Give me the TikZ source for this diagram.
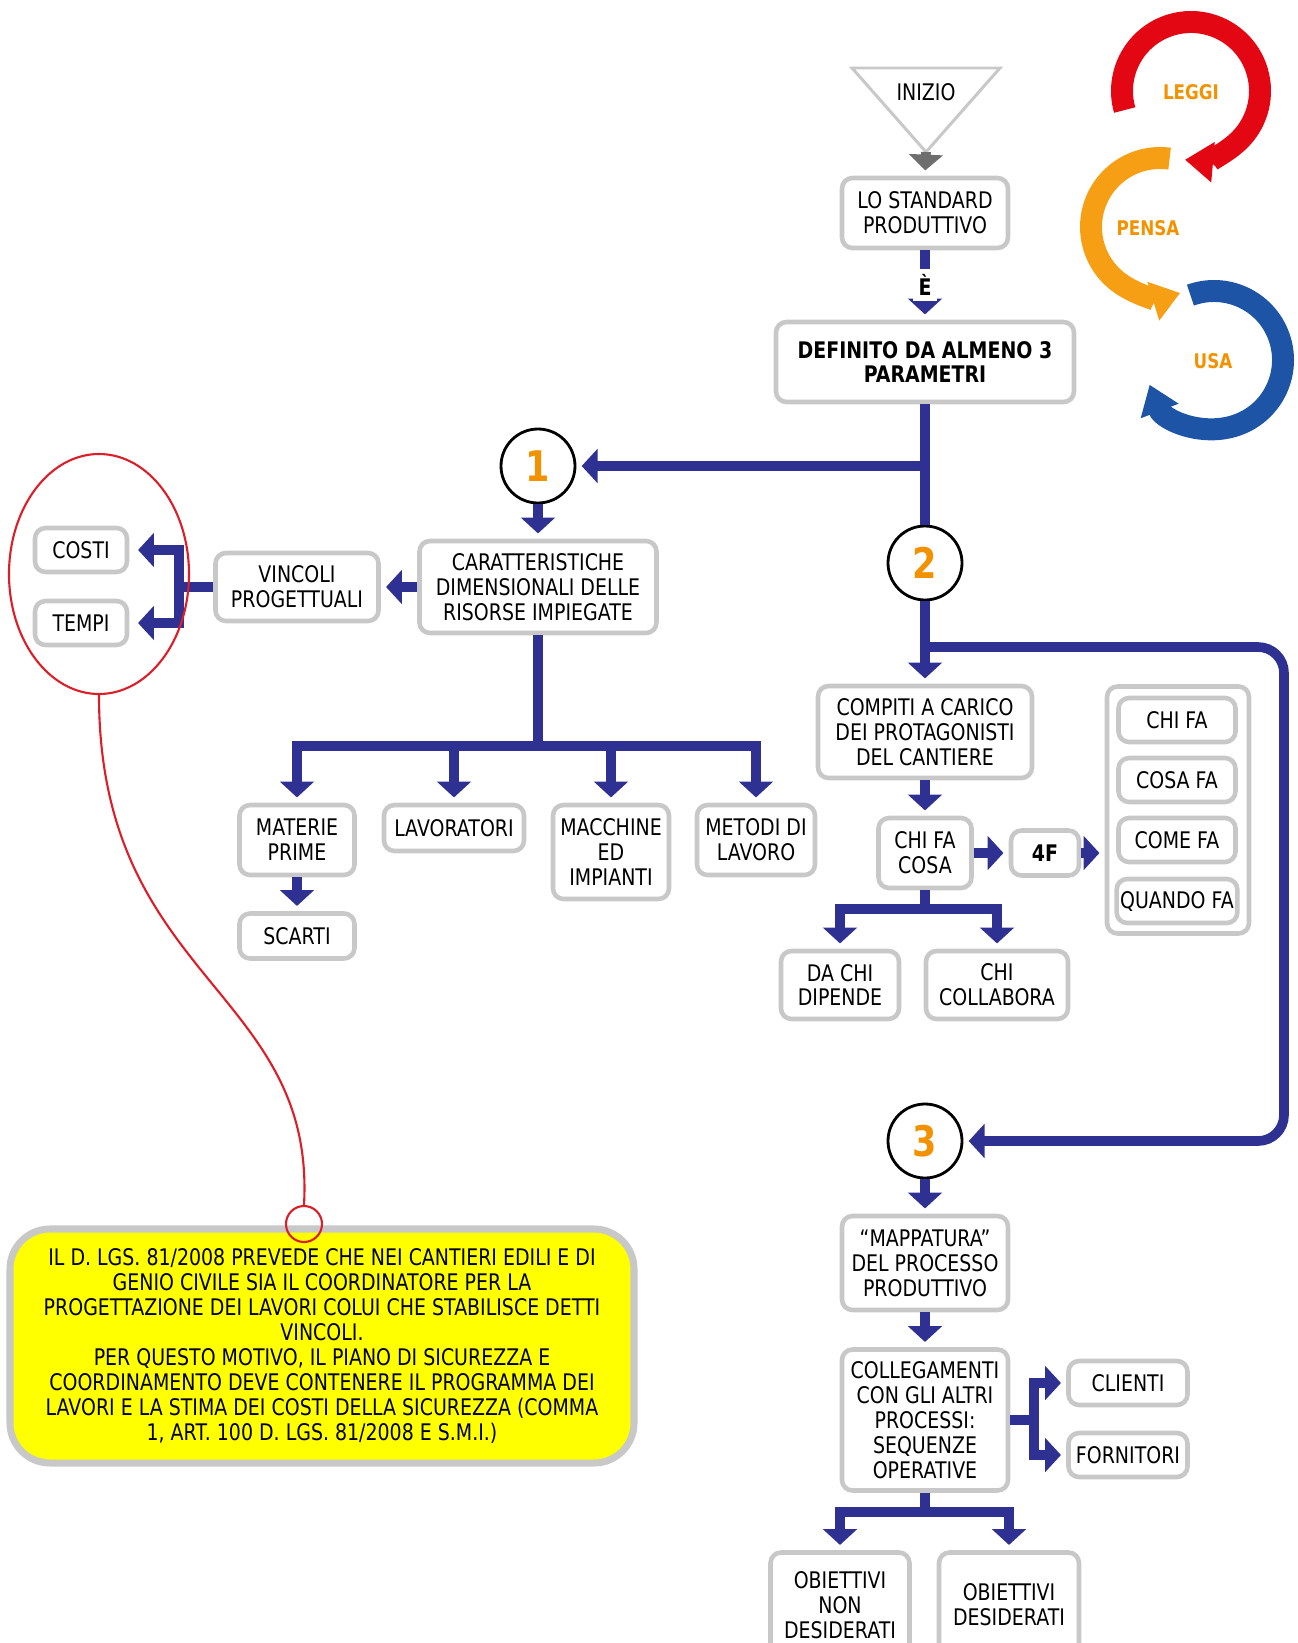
\documentclass[tikz,border=0pt]{standalone}
\usepackage{fontspec}
\setmainfont{DejaVu Sans}[FakeStretch=0.83]
\usetikzlibrary{arrows.meta, positioning, shapes.geometric}

\definecolor{flowblue}{RGB}{46,49,146}
\definecolor{boxgray}{RGB}{200,200,200}
\definecolor{arrowgray}{RGB}{110,110,110}
\definecolor{numorange}{RGB}{243,146,0}
\definecolor{cycred}{RGB}{227,6,19}
\definecolor{cycorange}{RGB}{246,159,20}
\definecolor{cycblue}{RGB}{30,84,166}
\definecolor{noteyellow}{RGB}{255,255,0}
\definecolor{pinred}{RGB}{220,30,40}

\begin{document}
\begin{tikzpicture}[
  x=0.2mm, y=-0.2mm,
  every node/.style={font=\fontsize{13}{14.2}\selectfont},
  box/.style={draw=boxgray, line width=2.6pt, rounded corners=6pt, fill=white, align=center, inner sep=2pt},
  num/.style={circle, draw=black, line width=1.6pt, fill=white, minimum size=14.8mm, font=\fontsize{24}{24}\selectfont\bfseries, text=numorange},
  flow/.style={draw=flowblue, line width=5.5pt, -{Triangle[width=19pt,length=9pt]}, shorten >=3pt},
  bar/.style={draw=flowblue, line width=5.5pt},
  cyc/.style={line width=12.5pt, -{Triangle[width=22pt,length=16pt]}},
  cyclabel/.style={font=\fontsize{11.5}{12}\selectfont\bfseries, text=numorange}
  ]
\useasboundingbox (0,0) rectangle (1298,1643);

% Start
\draw[draw=boxgray, line width=1.7pt, fill=white] (852,68) -- (1000,68) -- (926,152) -- cycle;
\coordinate (apex) at (926,152);
\node (inizio) at (926,92) {INIZIO};
\node[box, minimum width=33.2mm, minimum height=14mm] (std) at (925,213) {LO STANDARD\\PRODUTTIVO};
\node[box, minimum width=59.6mm, minimum height=16mm, font=\fontsize{13}{14.2}\selectfont\bfseries] (defin) at (925,362) {DEFINITO DA ALMENO 3\\PARAMETRI};
\node[num] (c1) at (538,466) {1};
\node[num] (c2) at (925,563) {2};
\node[num] (c3) at (925,1141) {3};

% Branch 1
\node[box, minimum width=47.4mm, minimum height=18.4mm] (caratt) at (538,587) {CARATTERISTICHE\\DIMENSIONALI DELLE\\RISORSE IMPIEGATE};
\node[box, minimum width=32.6mm, minimum height=13.6mm] (vincoli) at (297,587) {VINCOLI\\PROGETTUALI};
\node[box, minimum width=18.4mm, minimum height=8.8mm] (costi) at (81,550) {COSTI};
\node[box, minimum width=18.4mm, minimum height=8.8mm] (tempi) at (81,623) {TEMPI};
\node[box, minimum width=23mm, minimum height=14mm] (materie) at (297,840) {MATERIE\\PRIME};
\node[box, minimum width=28mm, minimum height=9.2mm] (lavoratori) at (454,828) {LAVORATORI};
\node[box, minimum width=23.2mm, minimum height=18.8mm] (macchine) at (611,852) {MACCHINE\\ED\\IMPIANTI};
\node[box, minimum width=23.6mm, minimum height=14mm] (metodi) at (756,840) {METODI DI\\LAVORO};
\node[box, minimum width=23mm, minimum height=9mm] (scarti) at (297,936) {SCARTI};

% Branch 2
\node[box, minimum width=42.8mm, minimum height=18.4mm] (compiti) at (925,732) {COMPITI A CARICO\\DEI PROTAGONISTI\\DEL CANTIERE};
\node[box, minimum width=18.6mm, minimum height=14mm] (chifacosa) at (925,853) {CHI FA\\COSA};
\node[box, minimum width=13.6mm, minimum height=9mm, font=\fontsize{13}{14.2}\selectfont\bfseries] (quattroF) at (1045,853) {4F};
\node[box, minimum width=28.4mm, minimum height=49.4mm] (fourF) at (1178,810) {};
\node[box, minimum width=23.4mm, minimum height=8.8mm] (chifa) at (1177,720) {CHI FA};
\node[box, minimum width=23.4mm, minimum height=8.8mm] (cosafa) at (1177,780) {COSA FA};
\node[box, minimum width=23.4mm, minimum height=8.8mm] (comefa) at (1177,840) {COME FA};
\node[box, minimum width=23.4mm, minimum height=8.8mm] (quandofa) at (1177,901) {QUANDO FA};
\node[box, minimum width=23.6mm, minimum height=13.6mm] (dachi) at (840,985) {DA CHI\\DIPENDE};
\node[box, minimum width=28.4mm, minimum height=13.6mm] (chicollab) at (997,985) {CHI\\COLLABORA};

% Branch 3
\node[box, minimum width=33.2mm, minimum height=18.8mm] (mappa) at (925,1263) {“MAPPATURA”\\DEL PROCESSO\\PRODUTTIVO};
\node[box, minimum width=33.2mm, minimum height=28.2mm] (colleg) at (925,1420) {COLLEGAMENTI\\CON GLI ALTRI\\PROCESSI:\\SEQUENZE\\OPERATIVE};
\node[box, minimum width=23.8mm, minimum height=8.8mm] (clienti) at (1128,1383) {CLIENTI};
\node[box, minimum width=23.8mm, minimum height=8.8mm] (fornitori) at (1128,1455) {FORNITORI};
\node[box, minimum width=27.8mm, minimum height=21mm] (obnon) at (840,1605) {OBIETTIVI\\NON\\DESIDERATI};
\node[box, minimum width=28mm, minimum height=21mm] (obdes) at (1009,1605) {OBIETTIVI\\DESIDERATI};

% Arrows
\draw[flow, draw=arrowgray] (apex) -- (std.north);
\draw[flow] (std.south) -- node[fill=white, inner sep=3pt, font=\fontsize{13}{14.2}\selectfont\bfseries] (verb) {È} (defin.north);
\draw[flow] (defin.south) |- (c1.east);
\draw[bar] (defin.south) -- (c2.north);
\draw[flow] (c2.south) -- (compiti.north);
\coordinate (loopin) at (925,647);
\coordinate (loopout) at (1284,647);
\draw[flow, rounded corners=5.2mm] (loopin) -- (loopout) |- (c3.east);

\draw[flow] (c1.south) -- (caratt.north);
\draw[flow] (caratt.west) -- (vincoli.east);
\draw[flow, shorten >=5pt] (vincoli.west) -- +(-34,0) |- (costi.east);
\draw[flow, shorten >=5pt] (vincoli.west) -- +(-34,0) |- (tempi.east);
\coordinate (bus1) at (538,746);
\draw[bar] (caratt.south) -- (bus1);
\foreach \n in {materie,lavoratori,macchine,metodi}
  \draw[flow] (bus1) -| (\n.north);
\draw[flow] (materie.south) -- (scarti.north);

\draw[flow] (compiti.south) -- (chifacosa.north);
\draw[flow] (chifacosa.east) -- (quattroF.west);
\draw[flow] (quattroF.east) -- (quattroF.east -| fourF.west);
\coordinate (bus2) at (925,909);
\draw[bar] (chifacosa.south) -- (bus2);
\foreach \n in {dachi,chicollab}
  \draw[flow] (bus2) -| (\n.north);

\draw[flow] (c3.south) -- (mappa.north);
\draw[flow] (mappa.south) -- (colleg.north);
\draw[flow] (colleg.east) -- +(24,0) |- (clienti.west);
\draw[flow] (colleg.east) -- +(24,0) |- (fornitori.west);
\coordinate (bus3) at (925,1512);
\draw[bar] (colleg.south) -- (bus3);
\foreach \n in {obnon,obdes}
  \draw[flow] (bus3) -| (\n.north);

% Note
\node[ellipse, draw=pinred, line width=1.2pt, minimum width=36mm, minimum height=48mm] (redell) at (99,574) {};
\node[draw=boxgray, line width=4pt, fill=noteyellow, rounded corners=8mm, minimum width=124.8mm, minimum height=46.8mm, align=center] (note) at (322,1346) {IL D. LGS. 81/2008 PREVEDE CHE NEI CANTIERI EDILI E DI\\GENIO CIVILE SIA IL COORDINATORE PER LA\\PROGETTAZIONE DEI LAVORI COLUI CHE STABILISCE DETTI\\VINCOLI.\\PER QUESTO MOTIVO, IL PIANO DI SICUREZZA E\\COORDINAMENTO DEVE CONTENERE IL PROGRAMMA DEI\\LAVORI E LA STIMA DEI COSTI DELLA SICUREZZA (COMMA\\1, ART. 100 D. LGS. 81/2008 E S.M.I.)};
\node[circle, draw=pinred, line width=1.2pt, minimum size=7.2mm] (pin) at (304,1224) {};
\draw[pinred, line width=1.2pt] (redell.south) .. controls (99,980) and (316,990) .. (pin.north);

% Cycle
\draw[cyc, cycred] (1191,91) ++(-196:69) arc[start angle=-196, end angle=95, radius=69];
\draw[cyc, cycorange] (1160,227) ++(-82:69) arc[start angle=-82, end angle=-287, radius=69];
\draw[cyc, cycblue] (1214,360) ++(-110:69) arc[start angle=-110, end angle=159, radius=69];
\node[cyclabel] (leggi) at (1191,92) {LEGGI};
\node[cyclabel] (pensa) at (1148,228) {PENSA};
\node[cyclabel] (usa) at (1213,361) {USA};

\end{tikzpicture}
\end{document}
